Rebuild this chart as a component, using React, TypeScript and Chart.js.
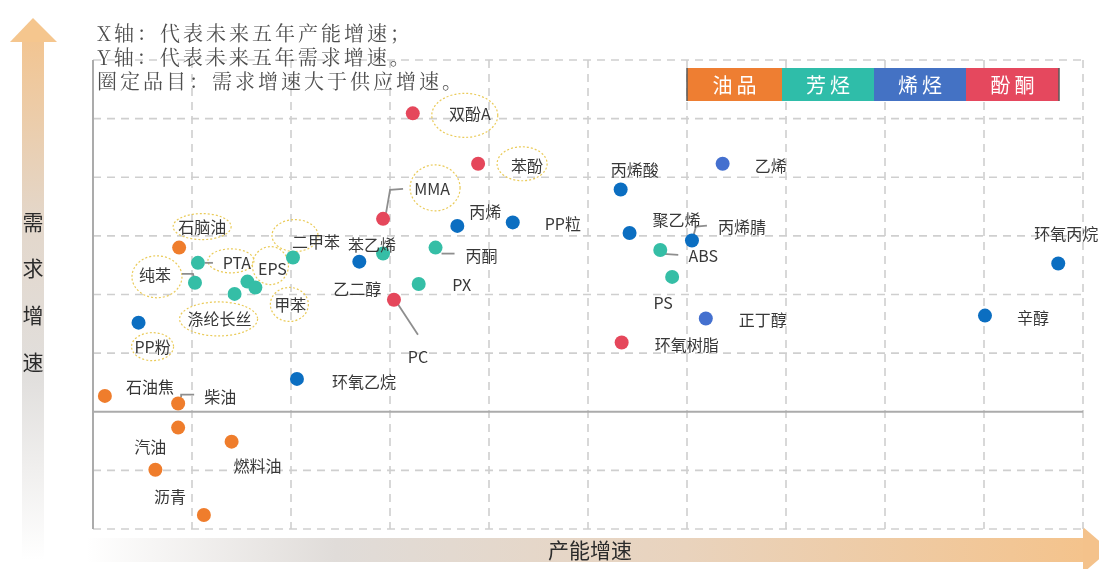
import React, { useEffect, useRef } from 'react';
import { Chart, registerables } from 'chart.js';

Chart.register(...registerables);

// ---------- data (grid units: x = capacity growth, y = demand growth) ----------
const oilNames = ['石脑油', '石油焦', '柴油', '', '燃料油', '汽油', '沥青'];
const oilX = [0.87, 0.12, 0.86, 0.86, 1.4, 0.63, 1.12];
const oilY = [2.8, 0.27, 0.14, -0.27, -0.51, -0.99, -1.76];

const aroNames = ['PTA', '纯苯', 'EPS', '涤纶长丝', '甲苯', '二甲苯', '苯乙烯', '丙酮', 'PX', 'ABS', 'PS'];
const aroX = [1.06, 1.03, 1.56, 1.43, 1.64, 2.02, 2.93, 3.46, 3.29, 5.73, 5.85];
const aroY = [2.54, 2.2, 2.22, 2.01, 2.12, 2.63, 2.7, 2.8, 2.18, 2.76, 2.3];

const oleNames = ['PP粉', '环氧乙烷', '乙二醇', '丙烯', 'PP粒', '丙烯酸', '聚乙烯', '丙烯腈', '乙烯', '正丁醇', '辛醇', '环氧丙烷'];
const oleX = [0.46, 2.06, 2.69, 3.68, 4.24, 5.33, 5.42, 6.05, 6.36, 6.19, 9.01, 9.75];
const oleY = [1.52, 0.56, 2.56, 3.17, 3.23, 3.79, 3.05, 2.92, 4.23, 1.59, 1.64, 2.53];

const ketNames = ['双酚A', '苯酚', 'MMA', 'PC', '环氧树脂'];
const ketX = [3.23, 3.89, 2.93, 3.04, 5.34];
const ketY = [5.09, 4.23, 3.29, 1.91, 1.18];

const legendNames = ['油品', '芳烃', '烯烃', '酚酮'];
const xGrid = [0, 1, 2, 3, 4, 5, 6, 7, 8, 9, 10];
const yGrid = [-2, -1, 0, 1, 2, 3, 4, 5, 6];

const headerLines = ['X轴：代表未来五年产能增速；', 'Y轴：代表未来五年需求增速。', '圈定品目：需求增速大于供应增速。'];
const xTitle = '产能增速';
const yTitle = '需求增速';

// ---------- styling / layout ----------
const COLORS = {
  oil: '#EF7D2C',
  aro: '#35BEA6',
  oleDark: '#0B6EC1',
  oleLight: '#4470CF',
  ket: '#E5475B',
};
const legendColors = ['#EE7E32', '#2FBDA9', '#4472C4', '#E5485E'];
const lighterOlefins = ['乙烯', '正丁醇'];

// label centre offset from its point (px)
const labelOffset: Record<string, [number, number]> = {
  石脑油: [23, -21], 石油焦: [45, -9], 柴油: [42, -7], 汽油: [-5, -23], 燃料油: [26, 24], 沥青: [-34, -18],
  PTA: [39, 0], 纯苯: [-40, -8], EPS: [25, -13], 涤纶长丝: [-15, 25], 甲苯: [35, 17], 二甲苯: [23, -16],
  苯乙烯: [-11, -9], 丙酮: [46, 8], PX: [43, 1], ABS: [43, 6], PS: [-9, 26],
  PP粉: [14, 24], 环氧乙烷: [67, 3], 乙二醇: [-2, 27], 丙烯: [28, -14], PP粒: [50, 2], 丙烯酸: [14, -20],
  聚乙烯: [47, -13], 丙烯腈: [50, -14], 乙烯: [48, 2], 正丁醇: [57, 1], 辛醇: [48, 2], 环氧丙烷: [8, -30],
  双酚A: [57, 1], 苯酚: [49, 2], MMA: [49, -30], PC: [24, 57], 环氧树脂: [65, 2],
};
// dashed ellipse around label: [dx, dy, rx, ry] relative to point
const ellipses: Record<string, [number, number, number, number]> = {
  石脑油: [23, -21, 29, 13], PTA: [33, -2, 23, 12], 纯苯: [-38, -6, 25, 21], EPS: [23, -16, 18, 19],
  甲苯: [34, 17, 19, 17], 涤纶长丝: [-16, 25, 39, 17], 二甲苯: [2, -22, 23, 16], PP粉: [14, 24, 21, 14],
  双酚A: [52, 2, 33, 22], 苯酚: [44, 0, 25, 17], MMA: [52, -31, 25, 23],
};
const leaders: Record<string, [number, number][]> = {
  柴油: [[3, -6], [3, -9], [16, -9]],
  PTA: [[7, 0], [15, 0]],
  纯苯: [[-13, -9], [-2, -9], [-1, -5]],
  MMA: [[3, -6], [7, -29], [20, -30]],
  PC: [[3, 3], [24, 35]],
  丙酮: [[6, 6], [19, 6]],
  ABS: [[3, 4], [18, 5]],
  丙烯腈: [[1, -3], [4, -14], [15, -15]],
};

const SANS = '"Noto Sans CJK SC", "Noto Sans", sans-serif';
const SERIF = '"Noto Serif CJK SC", "Liberation Serif", "Noto Sans CJK SC", serif';

const toPoints = (xs: number[], ys: number[]) => xs.map((v, i) => ({ x: v, y: ys[i] }));

const decorPlugin = {
  id: 'decor',
  beforeDraw(chart: any) {
    const ctx: CanvasRenderingContext2D = chart.ctx;
    ctx.save();
    ctx.fillStyle = '#ffffff';
    ctx.fillRect(0, 0, chart.width, chart.height);

    // vertical (demand) arrow
    const gy = ctx.createLinearGradient(0, 42, 0, 560);
    gy.addColorStop(0, '#F2C592');
    gy.addColorStop(0.35, '#E3D7CB');
    gy.addColorStop(0.65, '#E1DFDD');
    gy.addColorStop(1, 'rgba(255,255,255,1)');
    ctx.fillStyle = gy;
    ctx.fillRect(22, 41, 22, 520);
    ctx.fillStyle = '#F5C68E';
    ctx.beginPath();
    ctx.moveTo(10, 42);
    ctx.lineTo(57, 42);
    ctx.lineTo(33, 18);
    ctx.closePath();
    ctx.fill();

    // horizontal (capacity) arrow
    const gx = ctx.createLinearGradient(86, 0, 1085, 0);
    gx.addColorStop(0, 'rgba(255,255,255,1)');
    gx.addColorStop(0.25, '#E0DCD9');
    gx.addColorStop(0.6, '#E9D3BD');
    gx.addColorStop(1, '#F4C38C');
    ctx.fillStyle = gx;
    ctx.fillRect(86, 538, 998, 24);
    ctx.fillStyle = '#F4C28B';
    ctx.beginPath();
    ctx.moveTo(1083, 527);
    ctx.lineTo(1083, 573);
    ctx.lineTo(1110, 550);
    ctx.closePath();
    ctx.fill();

    ctx.fillStyle = '#2b2b2b';
    ctx.font = `21px ${SANS}`;
    ctx.textAlign = 'center';
    ctx.textBaseline = 'middle';
    ctx.fillText(xTitle, 590, 550);
    const ys = [222, 268, 315, 362];
    Array.from(yTitle).forEach((ch, i) => ctx.fillText(ch, 33, ys[i]));
    ctx.restore();
  },
  beforeDatasetsDraw(chart: any) {
    const ctx: CanvasRenderingContext2D = chart.ctx;
    const xs = chart.scales.x;
    const ys = chart.scales.y;
    const top = ys.getPixelForValue(yGrid[yGrid.length - 1]);
    const bottom = ys.getPixelForValue(yGrid[0]);
    const left = xs.getPixelForValue(xGrid[0]);
    const right = xs.getPixelForValue(xGrid[xGrid.length - 1]);
    ctx.save();
    ctx.lineWidth = 1.6;
    ctx.strokeStyle = '#CFCFCF';
    ctx.setLineDash([8, 6]);
    for (const v of yGrid) {
      if (v === 0) continue;
      const p = ys.getPixelForValue(v);
      ctx.beginPath();
      ctx.moveTo(left, p);
      ctx.lineTo(right, p);
      ctx.stroke();
    }
    for (const v of xGrid) {
      if (v === 0) continue;
      const p = xs.getPixelForValue(v);
      ctx.beginPath();
      ctx.moveTo(p, top);
      ctx.lineTo(p, bottom);
      ctx.stroke();
    }
    ctx.setLineDash([]);
    ctx.strokeStyle = '#ABABAB';
    ctx.lineWidth = 2;
    const y0 = ys.getPixelForValue(0);
    ctx.beginPath();
    ctx.moveTo(left, y0);
    ctx.lineTo(right, y0);
    ctx.stroke();
    ctx.beginPath();
    ctx.moveTo(left, top);
    ctx.lineTo(left, bottom);
    ctx.stroke();

    // ellipses and leader lines
    chart.data.datasets.forEach((ds: any, di: number) => {
      const meta = chart.getDatasetMeta(di);
      ds.names.forEach((name: string, i: number) => {
        const el = meta.data[i];
        if (!el) return;
        const px = el.x;
        const py = el.y;
        const e = ellipses[name];
        if (e) {
          ctx.save();
          ctx.strokeStyle = '#EACB5A';
          ctx.lineWidth = 1.2;
          ctx.setLineDash([2, 2]);
          ctx.beginPath();
          ctx.ellipse(px + e[0], py + e[1], e[2], e[3], 0, 0, Math.PI * 2);
          ctx.stroke();
          ctx.restore();
        }
        const l = leaders[name];
        if (l) {
          ctx.save();
          ctx.strokeStyle = '#8E8E8E';
          ctx.lineWidth = 1.8;
          ctx.beginPath();
          l.forEach(([dx, dy], k) => {
            if (k === 0) ctx.moveTo(px + dx, py + dy);
            else ctx.lineTo(px + dx, py + dy);
          });
          ctx.stroke();
          ctx.restore();
        }
      });
    });
    ctx.restore();
  },
  afterDatasetsDraw(chart: any) {
    const ctx: CanvasRenderingContext2D = chart.ctx;
    ctx.save();
    // point labels
    ctx.fillStyle = '#383838';
    ctx.font = `16px ${SANS}`;
    ctx.textAlign = 'center';
    ctx.textBaseline = 'middle';
    chart.data.datasets.forEach((ds: any, di: number) => {
      const meta = chart.getDatasetMeta(di);
      ds.names.forEach((name: string, i: number) => {
        const el = meta.data[i];
        const off = labelOffset[name];
        if (!el || !name || !off) return;
        ctx.fillText(name, el.x + off[0], el.y + off[1]);
      });
    });

    // legend boxes
    const bx = [687, 782, 874, 966, 1059];
    for (let i = 0; i < 4; i++) {
      ctx.fillStyle = legendColors[i];
      ctx.fillRect(bx[i], 68, bx[i + 1] - bx[i], 33);
      const cx = (bx[i] + bx[i + 1]) / 2;
      ctx.fillStyle = '#ffffff';
      ctx.font = `20px ${SANS}`;
      const chars = Array.from(legendNames[i]);
      ctx.fillText(chars[0], cx - 12, 85);
      ctx.fillText(chars[1], cx + 12, 85);
    }
    ctx.strokeStyle = '#5A5A5A';
    ctx.lineWidth = 1.5;
    ctx.beginPath();
    ctx.moveTo(687, 68);
    ctx.lineTo(687, 101);
    ctx.moveTo(1059, 68);
    ctx.lineTo(1059, 101);
    ctx.stroke();

    // header notes
    ctx.fillStyle = '#4D4D4D';
    ctx.font = `20px ${SERIF}`;
    ctx.textAlign = 'left';
    (ctx as any).letterSpacing = '3px';
    const hy = [33, 57, 81];
    headerLines.forEach((t, i) => ctx.fillText(t, 97, hy[i]));
    (ctx as any).letterSpacing = '0px';
    ctx.restore();
  },
};

export default function App() {
  const ref = useRef<HTMLCanvasElement>(null);
  useEffect(() => {
    if (!ref.current) return;
    const mk = (label: string, names: string[], xs: number[], ys: number[], color: any) => ({
      label,
      names,
      data: toPoints(xs, ys),
      backgroundColor: color,
      borderWidth: 0,
      pointRadius: 7,
      pointHoverRadius: 7,
    });
    const chart = new Chart(ref.current, {
      type: 'scatter',
      data: {
        datasets: [
          mk('油品', oilNames, oilX, oilY, COLORS.oil),
          mk('芳烃', aroNames, aroX, aroY, COLORS.aro),
          mk('烯烃', oleNames, oleX, oleY, oleNames.map((n) => (lighterOlefins.includes(n) ? COLORS.oleLight : COLORS.oleDark))),
          mk('酚酮', ketNames, ketX, ketY, COLORS.ket),
        ] as any,
      },
      options: {
        responsive: false,
        animation: false,
        devicePixelRatio: 1,
        layout: { padding: { left: 93, right: 16, top: 60, bottom: 40 } },
        scales: {
          x: { type: 'linear', min: xGrid[0], max: xGrid[xGrid.length - 1], display: false },
          y: { type: 'linear', min: yGrid[0], max: yGrid[yGrid.length - 1], display: false },
        },
        plugins: { legend: { display: false }, tooltip: { enabled: false } },
        events: [],
      },
      plugins: [decorPlugin],
    });
    return () => chart.destroy();
  }, []);
  return (
    <div style={{ position: 'fixed', left: 0, top: 0, width: 1099, height: 569, background: '#fff' }}>
      <canvas ref={ref} width={1099} height={569} style={{ width: 1099, height: 569, display: 'block' }} />
    </div>
  );
}
